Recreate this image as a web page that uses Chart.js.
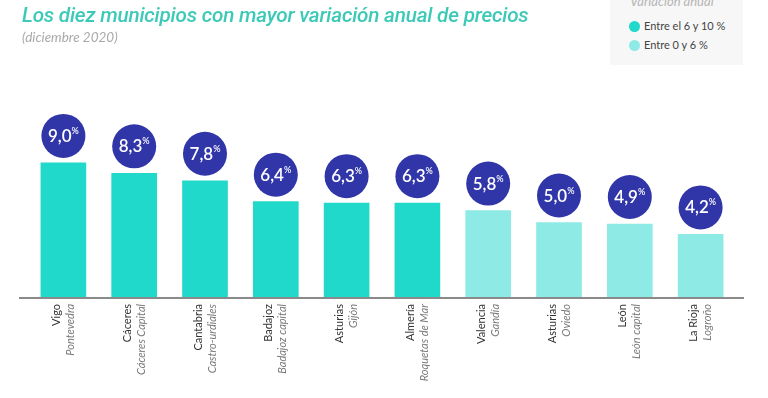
<!DOCTYPE html>
<html>
<head>
<meta charset="utf-8">
<script src="https://cdn.jsdelivr.net/npm/chart.js@4"></script>
<style>
  html, body { margin: 0; padding: 0; background: #fff; }
  #wrap { position: relative; width: 768px; height: 398px; overflow: hidden; font-family: Lato, "Noto Sans", sans-serif; }
  #chart { position: absolute; left: 0; top: 0; }
  .title { position: absolute; left: 22px; top: 3px; font: italic 500 20.7px Roboto, sans-serif; color: #3cc9b8; letter-spacing: -0.2px; white-space: nowrap; }
  .sub { position: absolute; left: 22px; top: 29px; font: italic 13.5px Lato, sans-serif; color: #a9a9a9; }
  .legend { position: absolute; left: 610px; top: 0; width: 133px; height: 65px; background: #f7f7f7; }
  .legend .lt { position: absolute; left: 20px; top: -7px; font: italic 13px Lato, sans-serif; color: #b5b5b5; }
  .legend .it { position: absolute; left: 20px; font: 11px Lato, sans-serif; color: #444; white-space: nowrap; }
  .legend .dot { display: inline-block; width: 11px; height: 11px; border-radius: 50%; vertical-align: -2px; margin-right: 4px; margin-left: -1px; }
</style>
</head>
<body>
<div id="wrap">
  <canvas id="chart" width="768" height="398"></canvas>
  <div class="title">Los diez municipios con mayor variación anual de precios</div>
  <div class="sub">(diciembre 2020)</div>
  <div class="legend">
    <div class="lt">Variación anual</div>
    <div class="it" style="top:19px"><span class="dot" style="background:#20d9cb"></span>Entre el 6 y 10 %</div>
    <div class="it" style="top:38px"><span class="dot" style="background:#8eeae5"></span>Entre 0 y 6 %</div>
  </div>
</div>
<script>
var regions = ['Vigo', 'Cáceres', 'Cantabria', 'Badajoz', 'Asturias', 'Almería', 'Valencia', 'Asturias', 'León', 'La Rioja'];
var towns = ['Pontevedra', 'Cáceres Capital', 'Castro-urdiales', 'Badajoz capital', 'Gijón', 'Roquetas de Mar', 'Gandía', 'Oviedo', 'León capital', 'Logroño'];
var variation = [9.0, 8.3, 7.8, 6.4, 6.3, 6.3, 5.8, 5.0, 4.9, 4.2];

var colors = variation.map(function (v) { return v >= 6 ? '#20d9cb' : '#8eeae5'; });

// circles with values + two-line labels under the axis
var decorations = {
  id: 'decorations',
  afterDatasetsDraw: function (chart) {
    var ctx = chart.ctx;
    var meta = chart.getDatasetMeta(0);
    var y0 = chart.scales.y.getPixelForValue(0);
    ctx.save();
    // axis line
    ctx.strokeStyle = '#8a8a8a';
    ctx.lineWidth = 2;
    ctx.beginPath();
    ctx.moveTo(19, y0 + 1);
    ctx.lineTo(744, y0 + 1);
    ctx.stroke();

    meta.data.forEach(function (bar, i) {
      var cx = bar.x, cy = bar.y - 27;
      ctx.fillStyle = '#3035a8';
      ctx.beginPath();
      ctx.arc(cx, cy, 22, 0, Math.PI * 2);
      ctx.fill();

      var txt = variation[i].toFixed(1).replace('.', ',');
      ctx.fillStyle = '#fff';
      ctx.font = '600 17px Lato, sans-serif';
      var w1 = ctx.measureText(txt).width;
      ctx.font = '600 9px Lato, sans-serif';
      var w2 = ctx.measureText('%').width;
      var sx = cx - (w1 + w2) / 2;
      ctx.textBaseline = 'alphabetic';
      ctx.textAlign = 'left';
      ctx.font = '600 17px Lato, sans-serif';
      ctx.fillText(txt, sx, cy + 6);
      ctx.font = '600 9px Lato, sans-serif';
      ctx.fillText('%', sx + w1, cy - 2);

      // rotated labels
      ctx.save();
      ctx.translate(cx, y0 + 7);
      ctx.rotate(-Math.PI / 2);
      ctx.textAlign = 'right';
      ctx.textBaseline = 'middle';
      ctx.font = '11px Lato, sans-serif';
      ctx.fillStyle = '#333';
      ctx.fillText(regions[i], 0, -7);
      ctx.font = 'italic 11px Lato, sans-serif';
      ctx.fillStyle = '#7a7a7a';
      ctx.fillText(towns[i], 0, 7);
      ctx.restore();
    });
    ctx.restore();
  }
};

new Chart(document.getElementById('chart'), {
  type: 'bar',
  data: {
    labels: regions,
    datasets: [{
      data: variation,
      backgroundColor: colors,
      barThickness: 45,
      borderWidth: 0
    }]
  },
  options: {
    responsive: false,
    animation: false,
    layout: { padding: { left: 28, right: 32, top: 148, bottom: 101 } },
    plugins: { legend: { display: false }, tooltip: { enabled: false } },
    scales: {
      x: { display: false },
      y: { display: false, min: 0, max: 10 }
    }
  },
  plugins: [decorations]
});
</script>
</body>
</html>
